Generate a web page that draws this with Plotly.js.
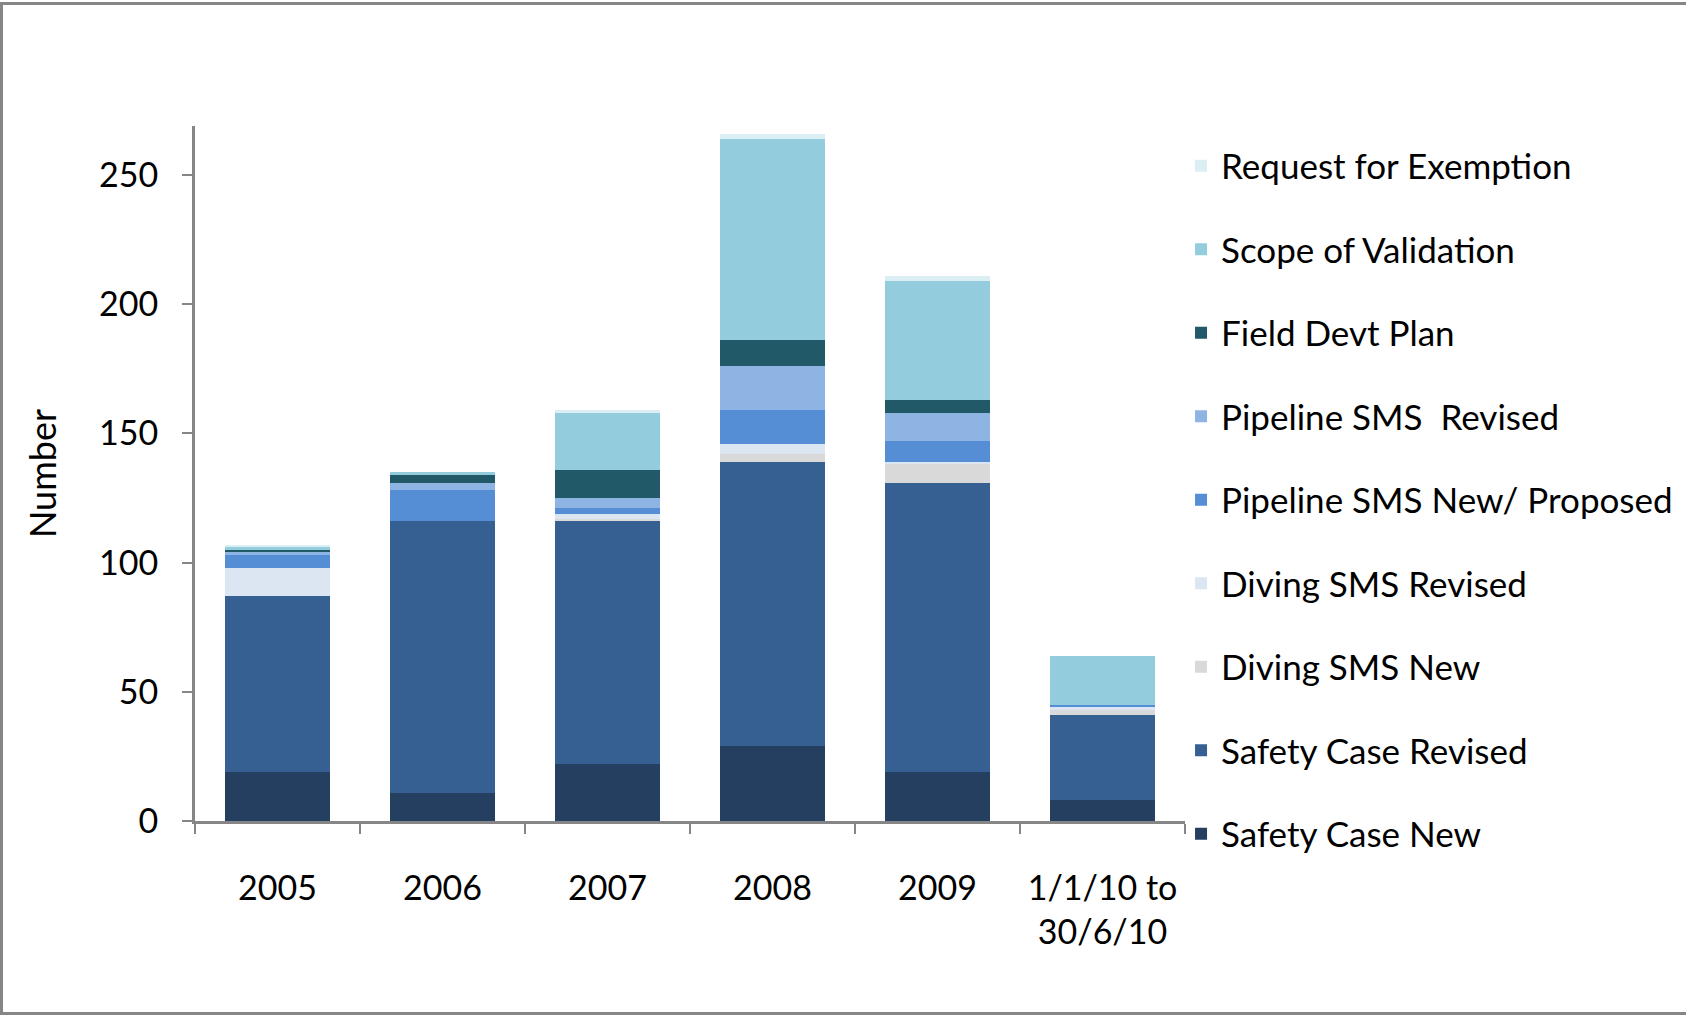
<!DOCTYPE html>
<html>
<head>
<meta charset="utf-8">
<script src="https://cdn.plot.ly/plotly-3.0.1.min.js"></script>
<style>
  html, body { margin: 0; padding: 0; background: #fff; }
  #wrap { position: relative; width: 1686px; height: 1015px; overflow: hidden; }
  #chart { position: absolute; left: 0; top: 0; width: 1686px; height: 1015px; }
  #frame { position: absolute; left: 0; top: 2px; width: 1700px; height: 1013px; box-sizing: border-box;
           border-left: 3px solid #868686; border-top: 3px solid #868686; border-bottom: 3px solid #868686;
           pointer-events: none; }
</style>
</head>
<body>
<div id="wrap">
  <div id="chart"></div>
  <div id="frame"></div>
</div>
<script>
const categories = ['2005', '2006', '2007', '2008', '2009', '1/1/10 to<br>30/6/10'];

const safetyCaseNew      = [19, 11, 22, 29, 19, 8];
const safetyCaseRevised  = [68, 105, 94, 110, 112, 33];
const divingSmsNew       = [0, 0, 1, 3, 7, 2];
const divingSmsRevised   = [11, 0, 2, 4, 1, 1];
const pipelineSmsNew     = [5, 12, 2, 13, 8, 1];
const pipelineSmsRevised = [1, 3, 4, 17, 11, 0];
const fieldDevtPlan      = [1, 3, 11, 10, 5, 0];
const scopeOfValidation  = [1, 1, 22, 78, 46, 19];
const requestForExemption = [1, 0, 1, 2, 2, 0];

const seriesNames = [
  'Safety Case New',
  'Safety Case Revised',
  'Diving SMS New',
  'Diving SMS Revised',
  'Pipeline SMS New/ Proposed',
  'Pipeline SMS\u00a0 Revised',
  'Field Devt Plan',
  'Scope of Validation',
  'Request for Exemption'
];
const seriesValues = [safetyCaseNew, safetyCaseRevised, divingSmsNew, divingSmsRevised,
  pipelineSmsNew, pipelineSmsRevised, fieldDevtPlan, scopeOfValidation, requestForExemption];
const seriesColors = ['#243f60', '#366092', '#d9d9d9', '#dce6f2', '#558ed5', '#8eb4e3', '#215968', '#93cddd', '#dbeef4'];

const FONT = 'Lato, "Open Sans", sans-serif';

const traces = seriesNames.map((name, i) => ({
  type: 'bar',
  name: name,
  x: categories,
  y: seriesValues[i],
  legendgroup: 'g' + i,
  legendrank: 100 - i,
  marker: { color: seriesColors[i], line: { width: 0 } },
  hoverinfo: 'x+y+name'
}));

const layout = {
  width: 1686,
  height: 1015,
  paper_bgcolor: '#ffffff',
  plot_bgcolor: '#ffffff',
  barmode: 'stack',
  bargap: 0.364,
  margin: { l: 195, r: 501, t: 126, b: 194, pad: 0, autoexpand: false },
  font: { family: FONT, size: 34, color: '#000000' },
  xaxis: {
    type: 'category',
    showline: true,
    linecolor: '#868686',
    linewidth: 3,
    ticks: 'outside',
    tickson: 'boundaries',
    ticklen: 10,
    tickwidth: 2,
    tickcolor: '#868686',
    showgrid: false,
    zeroline: false,
    ticklabelstandoff: 35,
    tickfont: { family: FONT, size: 34, color: '#000' }
  },
  yaxis: {
    range: [0, 269],
    dtick: 50,
    tick0: 0,
    showline: true,
    linecolor: '#868686',
    linewidth: 3,
    ticks: 'outside',
    ticklen: 10,
    tickwidth: 2,
    tickcolor: '#868686',
    showgrid: false,
    zeroline: false,
    ticklabelstandoff: 17,
    tickfont: { family: FONT, size: 34, color: '#000' },
    title: { text: 'Number', font: { family: FONT, size: 36, color: '#000' }, standoff: 32 }
  },
  legend: {
    traceorder: 'grouped',
    tracegroupgap: 35,
    x: 0.996,
    xanchor: 'left',
    y: 0.985,
    yanchor: 'top',
    maxheight: 950,
    font: { family: FONT, size: 35, color: '#000' },
    bgcolor: 'rgba(0,0,0,0)',
    itemclick: false,
    itemdoubleclick: false
  },
  showlegend: true
};

Plotly.newPlot('chart', traces, layout, { displayModeBar: false, staticPlot: true });
</script>
</body>
</html>
